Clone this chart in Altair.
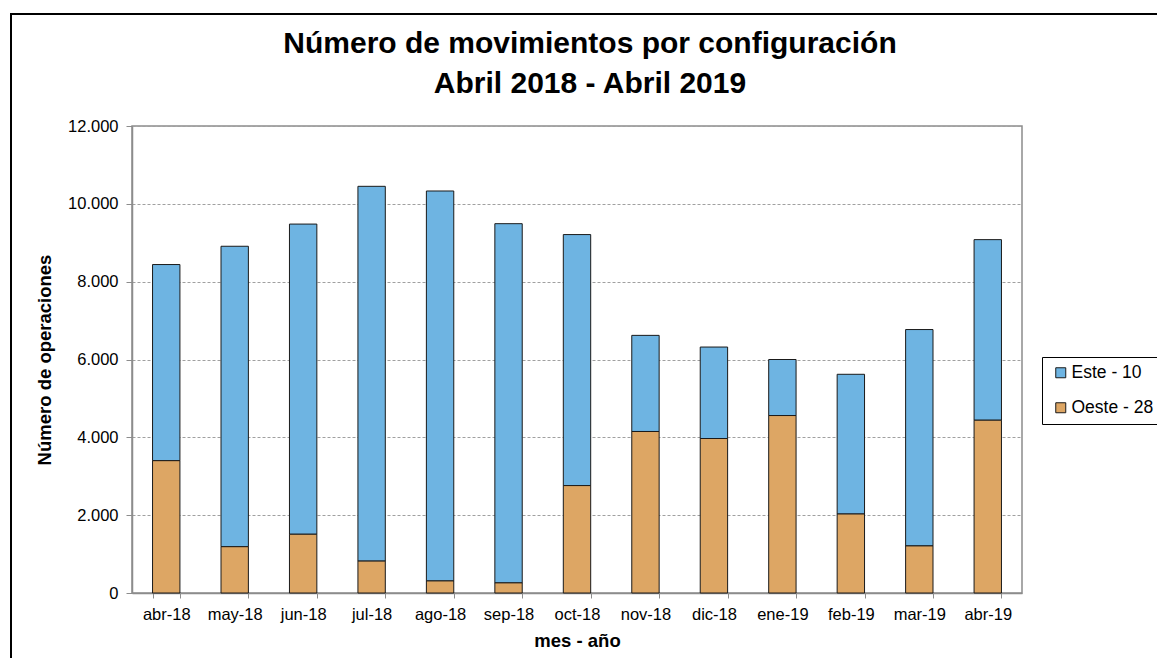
import altair as alt
import pandas as pd

months = ["abr-18", "may-18", "jun-18", "jul-18", "ago-18", "sep-18", "oct-18",
          "nov-18", "dic-18", "ene-19", "feb-19", "mar-19", "abr-19"]
este = [5040, 7720, 7970, 9630, 10020, 9230, 6450, 2470, 2350, 1440, 3590, 5560, 4640]
oeste = [3400, 1190, 1510, 820, 310, 260, 2760, 4150, 3970, 4560, 2030, 1210, 4440]
series = ["Este - 10", "Oeste - 28"]
colors = ["#6EB4E2", "#DDA664"]
y_ticks = [0, 2000, 4000, 6000, 8000, 10000, 12000]

rows = []
for m, e, o in zip(months, este, oeste):
    rows.append({"mes": m, "serie": series[0], "valor": e, "orden": 1})
    rows.append({"mes": m, "serie": series[1], "valor": o, "orden": 0})
df = pd.DataFrame(rows)

FONT = "Liberation Sans"

bars = alt.Chart(df).mark_bar(stroke="#1a1a1a", strokeWidth=1).encode(
    x=alt.X("mes:N", sort=months,
            scale=alt.Scale(paddingInner=0.6, paddingOuter=0.3),
            axis=alt.Axis(title="mes - año", labelAngle=0, tickBand="extent",
                          labelPadding=8, titlePadding=9, tickSize=5,
                          domainColor="#8c8c8c", tickColor="#8c8c8c", grid=False)),
    y=alt.Y("valor:Q", stack="zero",
            scale=alt.Scale(domain=[0, 12000], nice=False),
            axis=alt.Axis(title="Número de operaciones", values=y_ticks,
                          labelExpr="replace(format(datum.value, ',d'), ',', '.')",
                          tickSize=6, labelPadding=8, titlePadding=13,
                          domainColor="#8c8c8c", tickColor="#8c8c8c",
                          grid=True, gridDash=[3, 2], gridColor="#a0a0a0", gridWidth=1)),
    color=alt.Color("serie:N", scale=alt.Scale(domain=series, range=colors),
                    legend=alt.Legend(title=None, orient="none", legendX=910, legendY=231,
                                      symbolType="square", symbolSize=100,
                                      symbolStrokeColor="#1a1a1a", symbolStrokeWidth=1,
                                      labelFontSize=17.5, labelFont=FONT, labelColor="black",
                                      rowPadding=16, padding=7, symbolOffset=3, labelOffset=2,
                                      strokeColor="black", fillColor="white")),
    order=alt.Order("orden:Q", sort="ascending"),
)

frame = alt.Chart(pd.DataFrame({"a": [0]})).mark_rect(
    fill=None, stroke="black", strokeWidth=2, clip=False
).encode(
    x=alt.value(-121), x2=alt.value(1060), y=alt.value(-112), y2=alt.value(560)
)

chart = alt.layer(bars, frame).properties(
    width=890, height=467,
    background="white",
    title=alt.Title(["Número de movimientos por configuración", "Abril 2018 - Abril 2019"],
                    fontSize=30, font=FONT, fontWeight="bold", color="black",
                    lineHeight=40, anchor="middle", dx=13, offset=0, dy=86),
    autosize=alt.AutoSizeParams(type="none"),
    padding={"left": 124, "top": 118, "right": 135, "bottom": 65},
).configure_view(
    stroke="#8c8c8c", strokeWidth=1.5
).configure_axis(
    labelFont=FONT, labelFontSize=16.5, labelColor="black",
    titleFont=FONT, titleFontSize=18.5, titleFontWeight="bold", titleColor="black",
    domainWidth=1.5
)

chart.save("out.html", embed_options={"renderer": "svg", "actions": False})
